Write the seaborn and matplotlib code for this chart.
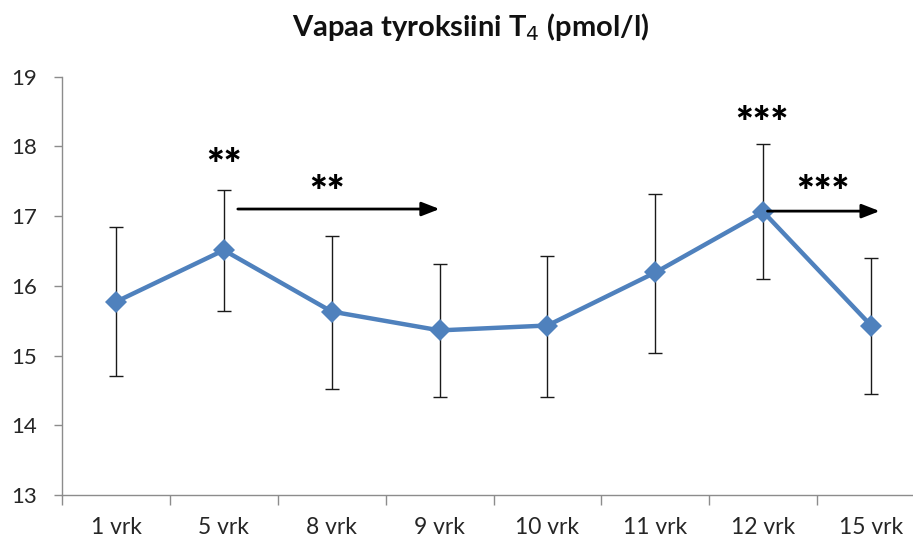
import matplotlib
matplotlib.use("Agg")
import matplotlib.pyplot as plt
import numpy as np
import pandas as pd
import seaborn as sns

# Free thyroxine by day: mean with upper / lower error limits
days = ["1 vrk", "5 vrk", "8 vrk", "9 vrk", "10 vrk", "11 vrk", "12 vrk", "15 vrk"]
mean_t4 = [15.77, 16.51, 15.63, 15.36, 15.43, 16.19, 17.06, 15.43]
upper_t4 = [16.84, 17.37, 16.71, 16.31, 16.43, 17.32, 18.03, 16.40]
lower_t4 = [14.71, 15.64, 14.52, 14.41, 14.41, 15.04, 16.10, 14.45]
y_ticks = [13, 14, 15, 16, 17, 18, 19]

sns.set_theme(style="white")
plt.rcParams["font.family"] = ["Lato", "DejaVu Sans"]

df = pd.DataFrame({"day": days, "t4": mean_t4})
pos = np.arange(len(days))
mean_arr = np.array(mean_t4)
yerr = [mean_arr - np.array(lower_t4), np.array(upper_t4) - mean_arr]

fig = plt.figure(figsize=(9.13, 5.40), dpi=100)
ax = fig.add_axes([62 / 913, 45 / 540, 863 / 913, 418.5 / 540])

ax.errorbar(pos, mean_arr, yerr=yerr, fmt="none", ecolor="#1a1a1a",
            elinewidth=1.0, capsize=5, capthick=1.0, zorder=2)
sns.lineplot(data=df, x="day", y="t4", ax=ax, color="#4F81BD", linewidth=3.2,
             marker="D", markersize=11, markeredgewidth=0, sort=False, zorder=3)

# Significance markers and arrows
ax.annotate("", xy=(3.0, 17.10), xytext=(1.13, 17.10),
            arrowprops=dict(arrowstyle="-|>,head_length=0.9,head_width=0.35",
                            color="black", lw=2.0, shrinkA=0, shrinkB=0), zorder=4)
ax.annotate("", xy=(7.08, 17.07), xytext=(6.04, 17.07),
            arrowprops=dict(arrowstyle="-|>,head_length=0.9,head_width=0.35",
                            color="black", lw=2.0, shrinkA=0, shrinkB=0), zorder=4)
star_kw = dict(ha="center", va="center", fontsize=30, fontweight="heavy", color="black")
ax.text(1.0, 17.70, "**", **star_kw)
ax.text(1.96, 17.31, "**", **star_kw)
ax.text(5.99, 18.30, "***", **star_kw)
ax.text(6.55, 17.31, "***", **star_kw)

ax.set_ylim(13, 19)
ax.set_yticks(y_ticks)
ax.set_xlim(-0.5, len(days) - 0.5)
ax.set_xticks(pos)
ax.set_xticklabels(days)
ax.set_xticks(np.arange(-0.5, len(days)), minor=True)
ax.set_xlabel("")
ax.set_ylabel("")

for side in ["top", "right"]:
    ax.spines[side].set_visible(False)
for side in ["left", "bottom"]:
    ax.spines[side].set_color("#8c8c8c")
    ax.spines[side].set_linewidth(1.0)

ax.tick_params(axis="y", which="major", direction="out", length=6, width=1,
               color="#8c8c8c", pad=12, labelsize=16, labelcolor="#262626", left=True)
ax.tick_params(axis="x", which="major", length=0, pad=16, labelsize=16.5,
               labelcolor="#262626", bottom=True)
ax.tick_params(axis="x", which="minor", direction="out", length=7, width=1,
               color="#8c8c8c", bottom=True)

fig.text(471 / 913, 1 - 27 / 540, "Vapaa tyroksiini T$_4$ (pmol/l)", ha="center",
         va="center", fontsize=21, fontweight="bold", color="#111111")

fig.savefig("out.png", dpi=100)
